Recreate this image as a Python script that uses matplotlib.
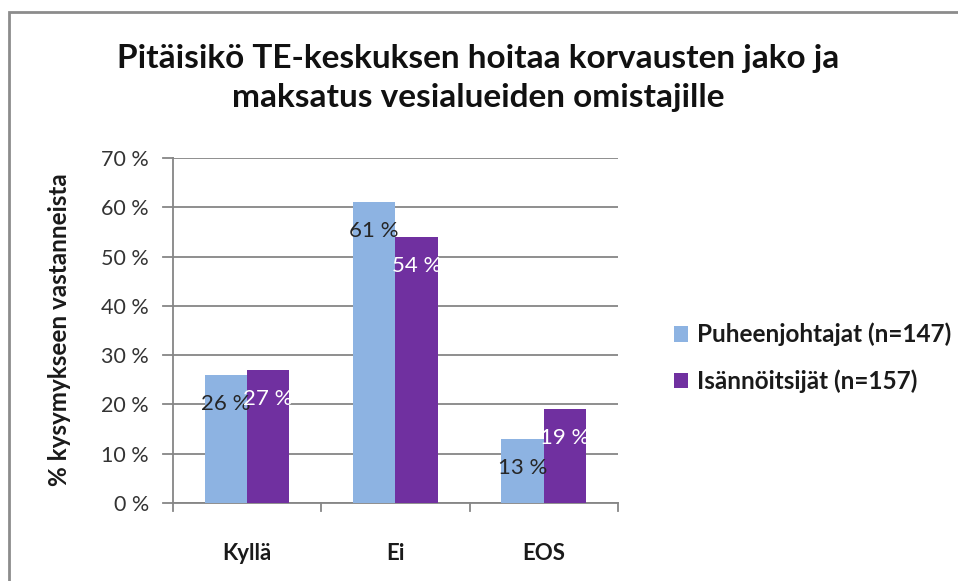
import matplotlib
matplotlib.use("Agg")
import matplotlib.pyplot as plt
from matplotlib.patches import Rectangle
import numpy as np

# Data
categories = ["Kyllä", "Ei", "EOS"]
series_names = ["Puheenjohtajat (n=147)", "Isännöitsijät (n=157)"]
puheenjohtajat = [26, 61, 13]
isannoitsijat = [27, 54, 19]
yticks = [0, 10, 20, 30, 40, 50, 60, 70]

title = "Pitäisikö TE-keskuksen hoitaa korvausten jako ja\nmaksatus vesialueiden omistajille"
ylabel = "% kysymykseen vastanneista"

col_light = "#8DB3E2"
col_purple = "#7030A0"
grid_col = "#868686"
font = ["Lato", "DejaVu Sans"]

plt.rcParams['font.family'] = font

fig = plt.figure(figsize=(9.58, 5.81), dpi=100)
fig.patch.set_facecolor("white")

# outer chart frame (cut off at right and bottom)
fig.patches.append(Rectangle((9 / 958, -0.1), 1.2, (581 - 12) / 581 + 0.1,
                             transform=fig.transFigure, fill=False,
                             edgecolor="#8c8c8c", linewidth=2))

ax = fig.add_axes([172.7 / 958, 1 - 503 / 581, (618 - 172.7) / 958, (503 - 158) / 581])

x = np.arange(len(categories))
w = 0.2857
b1 = ax.bar(x - w / 2, puheenjohtajat, w, color=col_light, zorder=3, label=series_names[0])
b2 = ax.bar(x + w / 2, isannoitsijat, w, color=col_purple, zorder=3, label=series_names[1])

# data labels, a bit below the bar tops
for bars, vals, tc in [(b1, puheenjohtajat, "#262626"), (b2, isannoitsijat, "white")]:
    for r, v in zip(bars, vals):
        ax.annotate(f"{v} %", (r.get_x() + r.get_width() / 2, v),
                    textcoords="offset pixels", xytext=(0, -29),
                    ha="center", va="center", fontsize=16, color=tc, zorder=4)

ax.set_xlim(-0.5, len(categories) - 0.5)
ax.set_ylim(0, 70)
ax.set_yticks(yticks)
ax.set_yticklabels([f"{t} %" for t in yticks], fontsize=15.5, color="#333333")
ax.set_xticks(x)
ax.set_xticklabels(categories, fontsize=16, fontweight="bold", color="#1a1a1a")
ax.tick_params(axis="x", length=0, pad=29)
ax.tick_params(axis="y", length=0, pad=17)

# category separator ticks on the x axis
for s in np.arange(-0.5, len(categories), 1.0):
    ax.plot([s, s], [0, -1.6], color=grid_col, linewidth=1.3, clip_on=False, zorder=2)
# y tick marks outward
for t in yticks:
    ax.plot([-0.5 - 0.065, -0.5], [t, t], color=grid_col, linewidth=1.3, clip_on=False, zorder=2)

ax.grid(axis="y", color=grid_col, linewidth=1.3, zorder=0)
ax.set_axisbelow(True)
for side in ["top", "right"]:
    ax.spines[side].set_visible(False)
ax.spines["left"].set_color(grid_col)
ax.spines["bottom"].set_color(grid_col)
ax.spines["left"].set_linewidth(1.3)
ax.spines["bottom"].set_linewidth(1.3)

fig.text(60 / 958, 1 - 330 / 581, ylabel, rotation=90, ha="center", va="center",
         fontsize=17.5, fontweight="bold", color="#1a1a1a")

fig.text(478 / 958, 1 - 78 / 581, title, ha="center", va="center",
         fontsize=24, fontweight="bold", color="#111111", linespacing=1.45)

leg = fig.legend(handles=[b1, b2], loc="center left",
                 bbox_to_anchor=(652 / 958, 1 - 358 / 581),
                 frameon=False, fontsize=17.5, handlelength=0.6, handleheight=0.6,
                 handletextpad=0.35, labelspacing=0.95)
for t in leg.get_texts():
    t.set_fontweight("bold")
    t.set_color("#1a1a1a")

fig.savefig("out.png", dpi=100, facecolor="white")
